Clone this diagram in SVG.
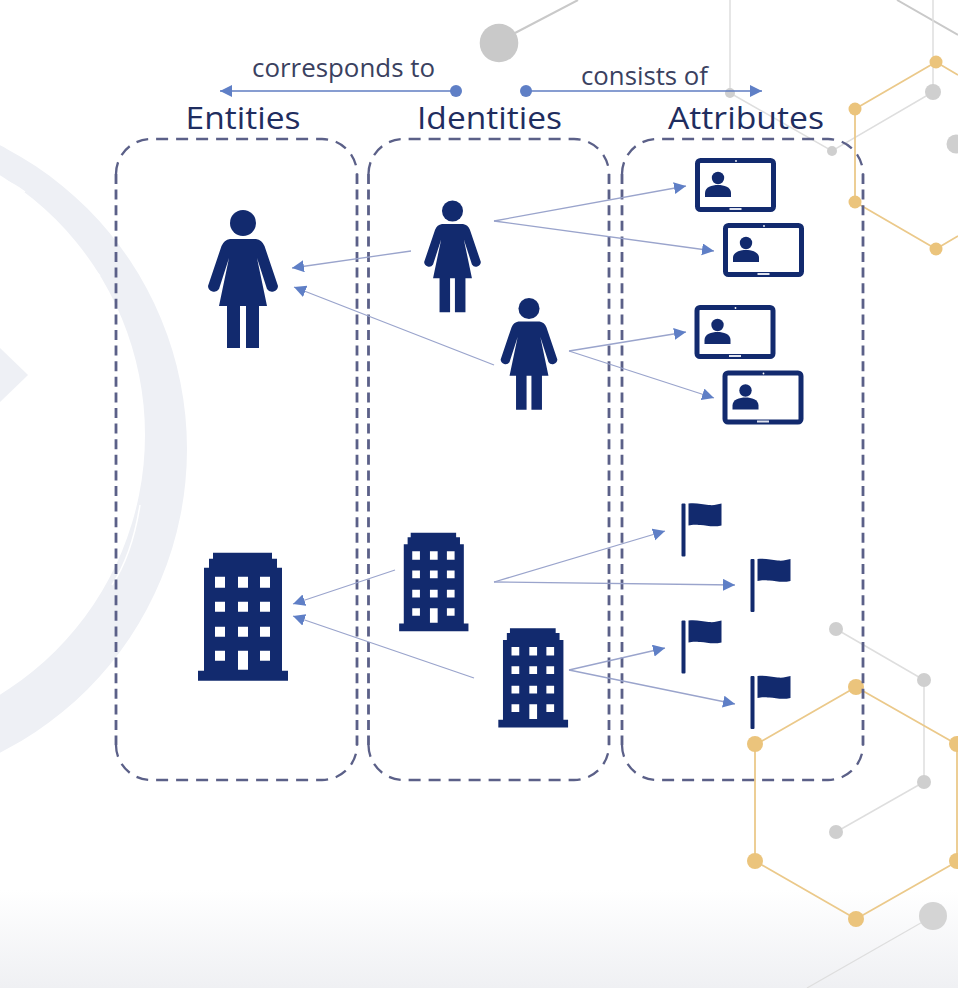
<svg xmlns="http://www.w3.org/2000/svg" width="958" height="988" viewBox="0 0 958 988">
<style>
.navy{fill:#122a6e}
.gl{stroke:#dedede;stroke-width:1.5;fill:none}
.gc{fill:#cfcfcf}
.au{stroke:#ebc98a;stroke-width:1.8;fill:none}
.ac{fill:#ebc47c}
.dv{stroke:#5b6088;stroke-width:2.8;fill:none;stroke-dasharray:10 5.6}
.dh{stroke:#5b6088;stroke-width:2.3;fill:none;stroke-dasharray:12 8}
.cn{stroke:#9aa4cc;stroke-width:1.3;fill:none;marker-end:url(#tip)}
.hd{stroke:#5f7cc2;stroke-width:1.4;fill:none;marker-start:url(#dot);marker-end:url(#tip)}
.t1{font-family:"Open Sans","Noto Sans",sans-serif;font-size:31px;fill:#1f2d5f;text-anchor:middle}
.t2{font-family:"Open Sans","Noto Sans",sans-serif;font-size:25px;fill:#3a4160;text-anchor:middle}
</style>
<defs>
<linearGradient id="fade" x1="0" y1="0" x2="0" y2="1"><stop offset="0" stop-color="#ffffff"/><stop offset="1" stop-color="#eff0f3"/></linearGradient>
<marker id="tip" markerUnits="userSpaceOnUse" markerWidth="14" markerHeight="14" refX="12" refY="6" orient="auto"><path d="M0,0 L12,6 L0,12 Z" fill="#5f7fc6"/></marker>
<marker id="dot" markerUnits="userSpaceOnUse" markerWidth="14" markerHeight="14" refX="7" refY="7"><circle cx="7" cy="7" r="6" fill="#5f7fc6"/></marker>
<g id="woman" class="navy">
<circle cx="0" cy="13" r="13"/>
<path d="M-13,29 L13,29 Q19,30 21.5,36 L35,76 A6,6 0 0 1 24,79 L14,48 L24,96 L16,96 L16,138 L3,138 L3,96 L-3,96 L-3,138 L-16,138 L-16,96 L-24,96 L-14,48 L-24,79 A6,6 0 0 1 -35,76 L-21.5,36 Q-19,30 -13,29Z"/>
</g>
<path id="building" class="navy" fill-rule="evenodd" d="M-30,0 H29 V6 H34 V15 H39 V118 H45 V128 H-45 V118 H-39 V15 H-34 V6 H-30 Z
M-28,24 h10 v11 h-10 Z M-5,24 h10 v11 h-10 Z M17,24 h10 v11 h-10 Z
M-28,49 h10 v10 h-10 Z M-5,49 h10 v10 h-10 Z M17,49 h10 v10 h-10 Z
M-28,74 h10 v10 h-10 Z M-5,74 h10 v10 h-10 Z M17,74 h10 v10 h-10 Z
M-28,98 h10 v10 h-10 Z M17,98 h10 v10 h-10 Z M-5,98 h10 v19 h-10 Z"/>
<g id="tablet">
<rect x="2.5" y="2.5" width="76" height="49" rx="3" fill="#ffffff" stroke="#122a6e" stroke-width="5"/>
<circle class="navy" cx="23" cy="20" r="6.2"/>
<path class="navy" d="M10,39 V35 C10,29 17,27 23,27 S36,29 36,35 V39 Z"/>
<rect x="34.5" y="50" width="12" height="2" fill="#dfe3ef"/>
<circle cx="41" cy="3" r="0.9" fill="#ffffff"/>
</g>
<g id="flag" class="navy">
<rect x="-7" y="0" width="4" height="53" rx="1"/>
<path d="M0,0 C8,-1 14,1 20,1.5 S29,1 33,0 V22 C25,24 18,22 12,21.5 S4,21 0,22 Z"/>
</g>
</defs>

<rect width="958" height="988" fill="#ffffff"/>
<rect y="890" width="958" height="98" fill="url(#fade)"/>

<g id="background">
<path fill="#eef0f5" fill-rule="evenodd" d="M187,449 A340,340 0 0 1 -493,449 A340,340 0 0 1 187,449 Z M145,435 A305,305 0 0 0 -465,435 A305,305 0 0 0 145,435 Z"/>
<path fill="#eef0f5" d="M0,348 L28,375 L0,402 Z"/>
<path d="M58,232 Q80,252 100,276 M140,505 Q132,555 112,585 M0,690 Q25,678 40,660 M0,178 Q14,184 25,192" stroke="#ffffff" stroke-width="1.5" fill="none"/>
<path class="gl" style="stroke:#c9c9c9;stroke-width:2" d="M515,33 L578,0 M897,0 L958,35"/>
<path class="gl" d="M730,0 V93 L832,151 L933,92 V0"/>
<path class="gl" d="M836,629 L924,680 V782 L836,832"/>
<path class="gl" style="stroke-width:1.2" d="M933,916 L807,988"/>
<circle cx="499" cy="43" r="19.3" fill="#c9c9c9"/>
<circle class="gc" cx="730" cy="93" r="5"/><circle class="gc" cx="832" cy="151" r="5"/>
<circle class="gc" cx="933" cy="92" r="8"/><circle class="gc" cx="956" cy="144" r="9.5"/>
<circle class="gc" cx="836" cy="629" r="7"/><circle class="gc" cx="924" cy="680" r="7"/>
<circle class="gc" cx="924" cy="782" r="7"/><circle class="gc" cx="836" cy="832" r="7"/>
<circle cx="933" cy="916" r="14" fill="#d4d4d4"/>
<path class="au" d="M958,75 L936,62 L855,109 V202 L936,249 L958,236"/>
<path class="au" d="M958,745 L856,687 L755,745 V861 L856,919 L958,861 M957,745 V861"/>
<circle class="ac" cx="936" cy="62" r="6.5"/><circle class="ac" cx="855" cy="109" r="6.5"/>
<circle class="ac" cx="855" cy="202" r="6.5"/><circle class="ac" cx="936" cy="249" r="6.5"/>
<circle class="ac" cx="856" cy="687" r="8"/><circle class="ac" cx="755" cy="744" r="8"/>
<circle class="ac" cx="755" cy="861" r="8"/><circle class="ac" cx="856" cy="919" r="8"/>
<circle class="ac" cx="957" cy="744" r="8"/><circle class="ac" cx="957" cy="861" r="8"/>
</g>

<g id="col-entities">
<path class="dh" d="M116,174 A35,35 0 0 1 151,139 H322 A35,35 0 0 1 357,174"/>
<path class="dv" d="M116,174 V745 M357,174 V745"/>
<path class="dh" d="M116,745 A35,35 0 0 0 151,780 H322 A35,35 0 0 0 357,745"/>
<text class="t1" x="243" y="129" textLength="115" lengthAdjust="spacingAndGlyphs">Entities</text>
</g>
<g id="col-identities">
<path class="dh" d="M368.500,174 A35,35 0 0 1 403.500,139 H574 A35,35 0 0 1 609,174"/>
<path class="dv" d="M368.500,174 V745 M609,174 V745"/>
<path class="dh" d="M368.500,745 A35,35 0 0 0 403.500,780 H574 A35,35 0 0 0 609,745"/>
<text class="t1" x="489.500" y="129" textLength="145" lengthAdjust="spacingAndGlyphs">Identities</text>
</g>
<g id="col-attributes">
<path class="dh" d="M622,174 A35,35 0 0 1 657,139 H828 A35,35 0 0 1 863,174"/>
<path class="dv" d="M622,174 V745 M863,174 V745"/>
<path class="dh" d="M622,745 A35,35 0 0 0 657,780 H828 A35,35 0 0 0 863,745"/>
<text class="t1" x="746" y="129" textLength="156" lengthAdjust="spacingAndGlyphs">Attributes</text>
</g>

<g id="connectors">
<path class="hd" d="M456,91 H220"/>
<path class="hd" d="M526,91 H762"/>
<path class="cn" d="M411,251 L292,268"/>
<path class="cn" d="M494,365 L294,287"/>
<path class="cn" d="M494,221 L686,186"/>
<path class="cn" d="M494,221 L714,251"/>
<path class="cn" d="M569,351 L686,332"/>
<path class="cn" d="M569,351 L714,398"/>
<path class="cn" d="M395,570 L293,604"/>
<path class="cn" d="M474,678 L293,616"/>
<path class="cn" d="M494,582 L665,531"/>
<path class="cn" d="M494,582 L735,585"/>
<path class="cn" d="M569,670 L665,648"/>
<path class="cn" d="M569,670 L735,704"/>
</g>
<text id="label-corresponds" class="t2" x="343.500" y="76.500" textLength="183" lengthAdjust="spacingAndGlyphs">corresponds to</text>
<text id="label-consists" class="t2" x="644.500" y="85" textLength="127" lengthAdjust="spacingAndGlyphs">consists of</text>

<g id="entity-person"><use href="#woman" transform="translate(243,210)"/></g>
<g id="identity-person-1"><use href="#woman" transform="translate(452.500,200.500) scale(0.81)"/></g>
<g id="identity-person-2"><use href="#woman" transform="translate(529,298) scale(0.81)"/></g>
<g id="entity-org"><use href="#building" transform="translate(243,552.700)"/></g>
<g id="identity-org-1"><use href="#building" transform="translate(433.800,532.700) scale(0.77)"/></g>
<g id="identity-org-2"><use href="#building" transform="translate(533.200,628.300) scale(0.775)"/></g>
<g id="attr-tablet-1"><use href="#tablet" transform="translate(695,158)"/></g>
<g id="attr-tablet-2"><use href="#tablet" transform="translate(723,223)"/></g>
<g id="attr-tablet-3"><use href="#tablet" transform="translate(694.500,305)"/></g>
<g id="attr-tablet-4"><use href="#tablet" transform="translate(722.500,370.500)"/></g>
<g id="attr-flag-1"><use href="#flag" transform="translate(688.500,503.500)"/></g>
<g id="attr-flag-2"><use href="#flag" transform="translate(757.500,559)"/></g>
<g id="attr-flag-3"><use href="#flag" transform="translate(688.500,620.500)"/></g>
<g id="attr-flag-4"><use href="#flag" transform="translate(757.500,676)"/></g>
</svg>
